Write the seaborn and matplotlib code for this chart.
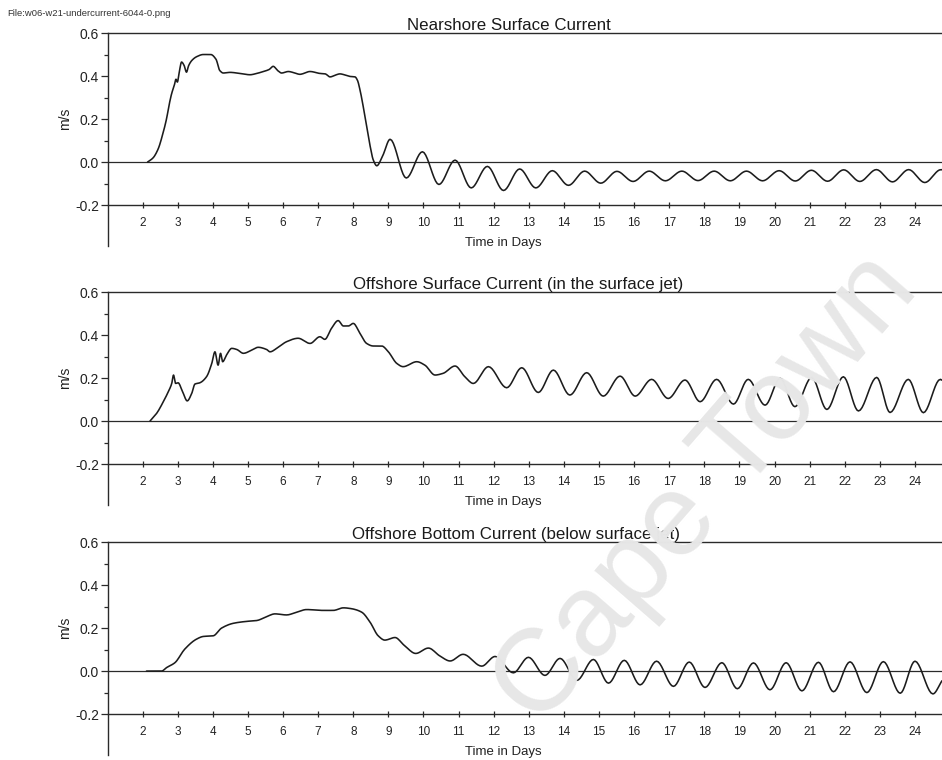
import numpy as np
import pandas as pd
import matplotlib
matplotlib.use("Agg")
import matplotlib.pyplot as plt
import seaborn as sns

# ---- current speed readings (time in days, speed in m/s) ----
near_days = [2.14, 2.30, 2.44, 2.59, 2.68, 2.76, 2.83, 2.90, 2.95, 2.99, 3.04, 3.11, 3.18,
             3.25, 3.31, 3.40, 3.54, 3.73, 3.94, 4.09, 4.20, 4.30, 4.49, 4.77, 5.06, 5.25,
             5.44, 5.60, 5.72, 5.85, 5.96, 6.15, 6.30, 6.48, 6.77, 7.05, 7.20, 7.34, 7.50,
             7.62, 7.80, 7.91, 8.05, 8.12, 8.19, 8.26, 8.33, 8.41, 8.48, 8.57, 8.67, 8.84,
             9.05, 9.51, 9.97, 10.44, 10.90, 11.36, 11.82, 12.28, 12.74, 13.20, 13.67, 14.13,
             14.59, 15.05, 15.51, 15.97, 16.43, 16.89, 17.36, 17.82, 18.28, 18.74, 19.20,
             19.66, 20.13, 20.59, 21.05, 21.51, 21.97, 22.43, 22.90, 23.36, 23.82, 24.28,
             24.74, 24.77]
near_vel = [0.0, 0.02, 0.06, 0.14, 0.20, 0.27, 0.32, 0.355, 0.385, 0.372, 0.414, 0.465, 0.45,
            0.418, 0.448, 0.472, 0.49, 0.50, 0.50, 0.478, 0.425, 0.414, 0.417, 0.412, 0.406, 0.412,
            0.421, 0.43, 0.445, 0.425, 0.414, 0.421, 0.416, 0.408, 0.421, 0.412, 0.41, 0.396, 0.405,
            0.41, 0.403, 0.398, 0.396, 0.38, 0.337, 0.28, 0.214, 0.14, 0.075, 0.01, -0.017, 0.03,
            0.106, -0.074, 0.048, -0.104, 0.009, -0.12, -0.02, -0.132, -0.032, -0.12, -0.04, -0.108,
            -0.042, -0.098, -0.043, -0.09, -0.042, -0.087, -0.042, -0.086, -0.042, -0.087, -0.042,
            -0.087, -0.04, -0.088, -0.038, -0.089, -0.036, -0.09, -0.035, -0.092, -0.035, -0.095,
            -0.035, -0.036]

jet_days = [2.21, 2.40, 2.59, 2.73, 2.83, 2.88, 2.94, 3.01, 3.14, 3.27, 3.40, 3.49, 3.63,
            3.82, 3.97, 4.06, 4.15, 4.22, 4.28, 4.39, 4.54, 4.68, 4.87, 5.11, 5.29, 5.53,
            5.63, 5.82, 6.10, 6.43, 6.77, 7.05, 7.19, 7.38, 7.57, 7.72, 7.86, 8.00, 8.19,
            8.38, 8.57, 8.81, 9.00, 9.24, 9.42, 9.81, 10.04, 10.33, 10.56, 10.90, 11.18,
            11.42, 11.85, 12.37, 12.80, 13.27, 13.70, 14.17, 14.65, 15.12, 15.60, 16.03,
            16.50, 16.97, 17.45, 17.88, 18.35, 18.83, 19.25, 19.73, 20.16, 20.58, 21.06,
            21.49, 21.96, 22.39, 22.91, 23.29, 23.81, 24.24, 24.72, 24.77]
jet_vel = [0.0, 0.036, 0.09, 0.136, 0.175, 0.214, 0.175, 0.178, 0.136, 0.094, 0.129, 0.172, 0.178,
           0.206, 0.268, 0.322, 0.26, 0.315, 0.276, 0.307, 0.338, 0.333, 0.315, 0.33, 0.343, 0.333,
           0.322, 0.338, 0.369, 0.385, 0.361, 0.392, 0.38, 0.431, 0.467, 0.442, 0.442, 0.454, 0.408,
           0.361, 0.349, 0.349, 0.322, 0.268, 0.253, 0.276, 0.26, 0.214, 0.222, 0.256, 0.206,
           0.175, 0.253, 0.155, 0.248, 0.133, 0.237, 0.121, 0.225, 0.116, 0.209, 0.116,
           0.194, 0.105, 0.191, 0.09, 0.194, 0.079, 0.194, 0.074, 0.199, 0.067, 0.203,
           0.054, 0.206, 0.047, 0.203, 0.04, 0.194, 0.039, 0.194, 0.19]

bottom_days = [2.11, 2.54, 2.68, 2.92, 3.20, 3.54, 3.73, 4.01, 4.25, 4.58, 4.96, 5.25, 5.53,
               5.77, 6.10, 6.39, 6.67, 7.15, 7.43, 7.72, 7.95, 8.24, 8.48, 8.71, 8.90, 9.19,
               9.45, 9.78, 10.14, 10.47, 10.76, 11.13, 11.66, 12.04, 12.56, 12.99, 13.46, 13.89,
               14.37, 14.84, 15.27, 15.72, 16.17, 16.64, 17.12, 17.57, 18.02, 18.50, 18.94,
               19.40, 19.87, 20.33, 20.78, 21.25, 21.68, 22.15, 22.63, 23.10, 23.58, 24.00,
               24.51, 24.77]
bottom_vel = [0.0, 0.0, 0.016, 0.039, 0.102, 0.149, 0.161, 0.164, 0.20, 0.222, 0.231, 0.235, 0.253,
              0.266, 0.261, 0.274, 0.286, 0.282, 0.282, 0.294, 0.29, 0.274, 0.227, 0.164, 0.144, 0.156,
              0.12, 0.082, 0.107, 0.07, 0.047, 0.078, 0.023, 0.068, -0.008, 0.064, -0.02, 0.059,
              -0.043, 0.054, -0.056, 0.05, -0.064, 0.046, -0.071, 0.042, -0.076, 0.039, -0.082,
              0.038, -0.087, 0.039, -0.092, 0.041, -0.096, 0.043, -0.1, 0.044, -0.103, 0.046,
              -0.106, -0.045]

titles = ["Nearshore Surface Current",
          "Offshore Surface Current (in the surface jet)",
          "Offshore Bottom Current (below surface jet)"]
title_x = [0.481, 0.492, 0.490]
x_ticks = list(range(2, 25))
y_ticks = [-0.2, 0.0, 0.2, 0.4, 0.6]
y_tick_labels = ["-0.2", "0.0", "0.2", "0.4", "0.6"]
y_minor = [-0.1, 0.1, 0.3, 0.5]

series = [(near_days, near_vel), (jet_days, jet_vel), (bottom_days, bottom_vel)]


def smooth_path(x, y, per_seg=10):
    """Monotone cubic (Fritsch-Carlson) curve through the readings, for drawing."""
    x = np.asarray(x, float)
    y = np.asarray(y, float)
    h = np.diff(x)
    d = np.diff(y) / h
    m = np.zeros_like(y)
    m[0], m[-1] = d[0], d[-1]
    for i in range(1, len(y) - 1):
        if d[i - 1] * d[i] <= 0:
            m[i] = 0.0
        else:
            w1 = 2 * h[i] + h[i - 1]
            w2 = h[i] + 2 * h[i - 1]
            m[i] = (w1 + w2) / (w1 / d[i - 1] + w2 / d[i])
    t = np.linspace(0, 1, per_seg, endpoint=False)
    h00 = 2 * t**3 - 3 * t**2 + 1
    h10 = t**3 - 2 * t**2 + t
    h01 = -2 * t**3 + 3 * t**2
    h11 = t**3 - t**2
    xs, ys = [], []
    for i in range(len(h)):
        xs.append(x[i] + t * h[i])
        ys.append(h00 * y[i] + h10 * h[i] * m[i] + h01 * y[i + 1] + h11 * h[i] * m[i + 1])
    xs.append([x[-1]])
    ys.append([y[-1]])
    return np.concatenate(xs), np.concatenate(ys)


sns.set_theme(style="ticks")
plt.rcParams["font.family"] = ["Liberation Sans", "DejaVu Sans"]

W, H = 942, 760
fig = plt.figure(figsize=(W / 100, H / 100), dpi=100)
fig.patch.set_facecolor("white")

LEFT = 107.5
tops = [33, 292, 542]
AXH = 213
ink = "#2a2a2a"

for k, top in enumerate(tops):
    ax = fig.add_axes([LEFT / W, 1 - (top + AXH) / H, 1 - LEFT / W, AXH / H])
    ax.set_facecolor("white")
    xd, yd = series[k]
    xs, ys = smooth_path(xd, yd)
    df = pd.DataFrame({"day": xs, "speed": ys})
    sns.lineplot(data=df, x="day", y="speed", ax=ax, color="#1c1c1c", linewidth=1.15,
                 sort=False, estimator=None, legend=False, zorder=3)
    ax.axhline(0.0, color=ink, lw=0.9, zorder=2)

    ax.set_xlim(1.0, 24.77)
    ax.set_ylim(-0.39, 0.6)

    ax.spines["right"].set_visible(False)
    ax.spines["bottom"].set_position(("data", -0.2))
    for s in ("left", "top", "bottom"):
        ax.spines[s].set_linewidth(1.0)
        ax.spines[s].set_color(ink)

    ax.set_xticks(x_ticks)
    ax.set_xticklabels([str(v) for v in x_ticks])
    ax.set_yticks(y_ticks)
    ax.set_yticklabels(y_tick_labels)
    ax.set_yticks(y_minor, minor=True)
    ax.tick_params(axis="x", which="major", direction="inout", length=5, width=0.9,
                   color=ink, labelsize=8.5, pad=6.0, labelcolor="#222222", bottom=True)
    ax.tick_params(axis="x", which="minor", bottom=False)
    ax.tick_params(axis="y", which="major", direction="out", length=5, width=0.9,
                   color=ink, labelsize=10, pad=1.2, labelcolor="#222222", left=True)
    ax.tick_params(axis="y", which="minor", direction="out", length=2.8, width=0.9,
                   color=ink, left=True)

    ax.set_xlabel("Time in Days", fontsize=9.5, color="#222222")
    ax.xaxis.label.set_va("center")
    ax.xaxis.set_label_coords(0.474, 0.012)
    ax.set_ylabel("m/s", fontsize=10, color="#222222")
    ax.yaxis.label.set_va("center")
    ax.yaxis.set_label_coords(-0.051, 0.595)

    ax.set_title(titles[k], fontsize=12.2, color="#1a1a1a", pad=2.2)
    ax.title.set_x(title_x[k])

fig.text(7 / W, 1 - 13 / H, "File:w06-w21-undercurrent-6044-0.png", fontsize=6.8,
         ha="left", va="center", color="#333333")

# faint diagonal watermark lying over the panels
fig.text(920 / W, 1 - 290 / H, "Cape Town", fontsize=84, rotation=49,
         rotation_mode="anchor", ha="right", va="baseline", color="#e7e7e7", zorder=10)

fig.savefig("out.png", dpi=100, facecolor="white")
